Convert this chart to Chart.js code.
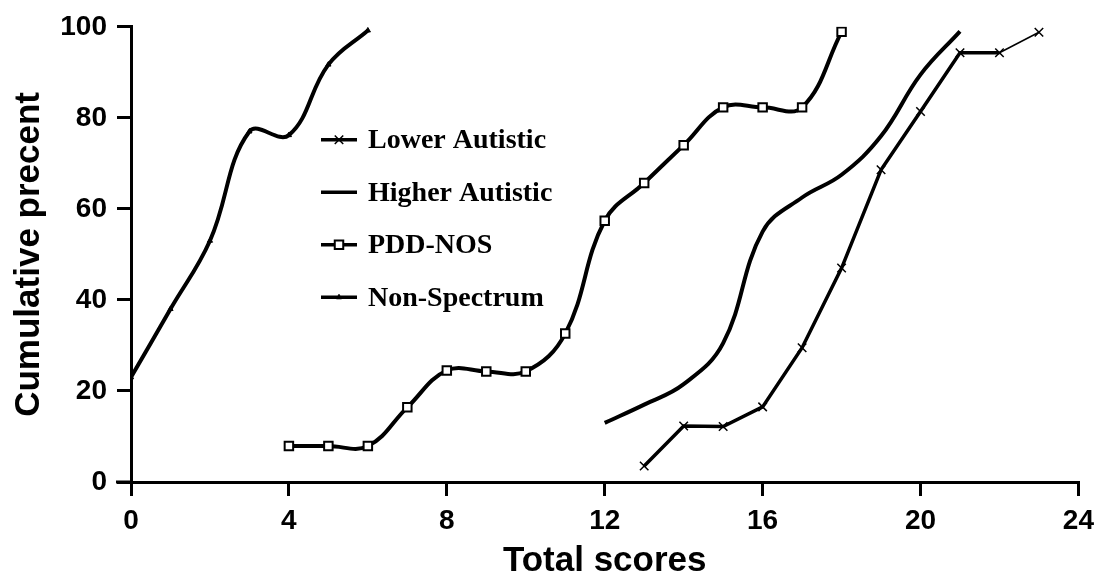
<!DOCTYPE html>
<html>
<head>
<meta charset="utf-8">
<script src="https://cdn.jsdelivr.net/npm/chart.js@4.4.1/dist/chart.umd.min.js"></script>
<style>
  html, body { margin: 0; padding: 0; background: #fff; }
  #wrap { width: 1102px; height: 582px; position: relative; }
</style>
</head>
<body>
<div id="wrap"><canvas id="chart"></canvas></div>
<script>
// series data
const lowerX = [13, 14, 15, 16, 17, 18, 19, 20, 21, 22, 23];
const lowerY = [3.5, 12.3, 12.2, 16.5, 29.5, 47, 68.6, 81.4, 94.3, 94.3, 98.8];

const higherX = [12, 13, 14, 15, 16, 17, 18, 19, 20, 21];
const higherY = [13, 17, 21.5, 30.5, 55, 62.5, 67.5, 76, 89.5, 99];

const pddX = [4, 5, 6, 7, 8, 9, 10, 11, 12, 13, 14, 15, 16, 17, 18];
const pddY = [7.9, 7.9, 7.9, 16.4, 24.5, 24.3, 24.3, 32.6, 57.4, 65.7, 74, 82.3, 82.3, 82.3, 98.9];

const nonX = [0, 1, 2, 3, 4, 5, 6];
const nonY = [23, 38, 53, 77, 76.2, 91.7, 99.2];

const seriesNames = ['Lower Autistic', 'Higher Autistic', 'PDD-NOS', 'Non-Spectrum'];
const xTicks = [0, 4, 8, 12, 16, 20, 24];
const yTicks = [0, 20, 40, 60, 80, 100];

const pts = (xs, ys) => xs.map((x, i) => ({ x: x, y: ys[i] }));

// legend drawn inside the plot, like the original
const innerLegend = {
    id: 'innerLegend',
    afterDatasetsDraw(chart) {
        const ctx = chart.ctx;
        const a = chart.chartArea;
        ctx.save();
        chart.data.datasets.forEach((ds, i) => {
            const y = a.top + 113 + i * 52.5;
            const x0 = a.left + 190, x1 = a.left + 226;
            ctx.strokeStyle = '#000';
            ctx.lineWidth = 3.5;
            ctx.beginPath();
            ctx.moveTo(x0, y);
            ctx.lineTo(x1, y);
            ctx.stroke();
            if (ds.pointRadius > 0) {
                ctx.fillStyle = ds.pointBackgroundColor;
                ctx.strokeStyle = '#000';
                ctx.lineWidth = ds.pointBorderWidth;
                Chart.helpers.drawPoint(ctx, {
                    pointStyle: ds.pointStyle,
                    radius: ds.pointRadius,
                    rotation: 0,
                    borderWidth: ds.pointBorderWidth
                }, (x0 + x1) / 2, y);
            }
            ctx.fillStyle = '#000';
            ctx.font = 'bold 28px "Liberation Serif", "Times New Roman", serif';
            ctx.textBaseline = 'middle';
            ctx.textAlign = 'left';
            ctx.fillText(ds.label, a.left + 237, y + 1);
        });
        // x axis runs a little past the y axis, as in the original
        ctx.strokeStyle = '#000';
        ctx.lineWidth = 3;
        ctx.beginPath();
        ctx.moveTo(a.left - 15, a.bottom);
        ctx.lineTo(a.left, a.bottom);
        ctx.stroke();
        ctx.restore();
    }
};

const ctx = document.getElementById('chart').getContext('2d');
const chart = new Chart(ctx, {
    type: 'line',
    data: {
        datasets: [
            {
                label: seriesNames[0],
                data: pts(lowerX, lowerY),
                borderColor: '#000',
                borderWidth: 3.5,
                tension: 0,
                pointStyle: 'crossRot',
                pointRadius: 6,
                pointBorderWidth: 1.5,
                pointBorderColor: '#000',
                pointBackgroundColor: '#000',
                segment: {
                    borderWidth: c => c.p0DataIndex === lowerX.length - 2 ? 1.5 : 3.5
                }
            },
            {
                label: seriesNames[1],
                data: pts(higherX, higherY),
                borderColor: '#000',
                borderWidth: 4,
                tension: 0.4,
                pointRadius: 0
            },
            {
                label: seriesNames[2],
                data: pts(pddX, pddY),
                borderColor: '#000',
                borderWidth: 4,
                tension: 0.4,
                pointStyle: 'rect',
                pointRadius: 6,
                pointBorderWidth: 2,
                pointBorderColor: '#000',
                pointBackgroundColor: '#fff'
            },
            {
                label: seriesNames[3],
                data: pts(nonX, nonY),
                borderColor: '#000',
                borderWidth: 4,
                tension: 0.4,
                pointStyle: 'triangle',
                pointRadius: 3,
                pointBorderWidth: 1,
                pointBorderColor: '#000',
                pointBackgroundColor: '#000'
            }
        ]
    },
    options: {
        responsive: true,
        maintainAspectRatio: false,
        animation: false,
        layout: { padding: { top: 24, right: -8, bottom: 0, left: 0 } },
        plugins: {
            legend: { display: false },
            tooltip: { enabled: false }
        },
        scales: {
            x: {
                type: 'linear',
                min: 0,
                max: 24,
                afterBuildTicks: s => { s.ticks = xTicks.map(v => ({ value: v })); },
                afterFit: s => { s.height = 100; },
                border: { display: true, color: '#000', width: 3 },
                grid: { drawOnChartArea: false, drawTicks: true, tickLength: 14, color: '#000', lineWidth: 3 },
                ticks: {
                    color: '#000',
                    padding: 8,
                    font: { family: 'Arial, "Liberation Sans", sans-serif', weight: 'bold', size: 28 }
                },
                title: {
                    display: true,
                    text: 'Total scores',
                    color: '#000',
                    padding: { top: 4, bottom: 0 },
                    font: { family: 'Arial, "Liberation Sans", sans-serif', weight: 'bold', size: 35 }
                }
            },
            y: {
                min: 0,
                max: 100,
                afterBuildTicks: s => { s.ticks = yTicks.map(v => ({ value: v })); },
                afterFit: s => { s.width = 131; },
                border: { display: true, color: '#000', width: 3 },
                grid: { drawOnChartArea: false, drawTicks: true, tickLength: 14, color: '#000', lineWidth: 3 },
                ticks: {
                    color: '#000',
                    padding: 10,
                    font: { family: 'Arial, "Liberation Sans", sans-serif', weight: 'bold', size: 28 }
                },
                title: {
                    display: true,
                    text: 'Cumulative precent',
                    color: '#000',
                    padding: { top: 8, bottom: 6 },
                    font: { family: 'Arial, "Liberation Sans", sans-serif', weight: 'bold', size: 35 }
                }
            }
        }
    },
    plugins: [innerLegend]
});
</script>
</body>
</html>
